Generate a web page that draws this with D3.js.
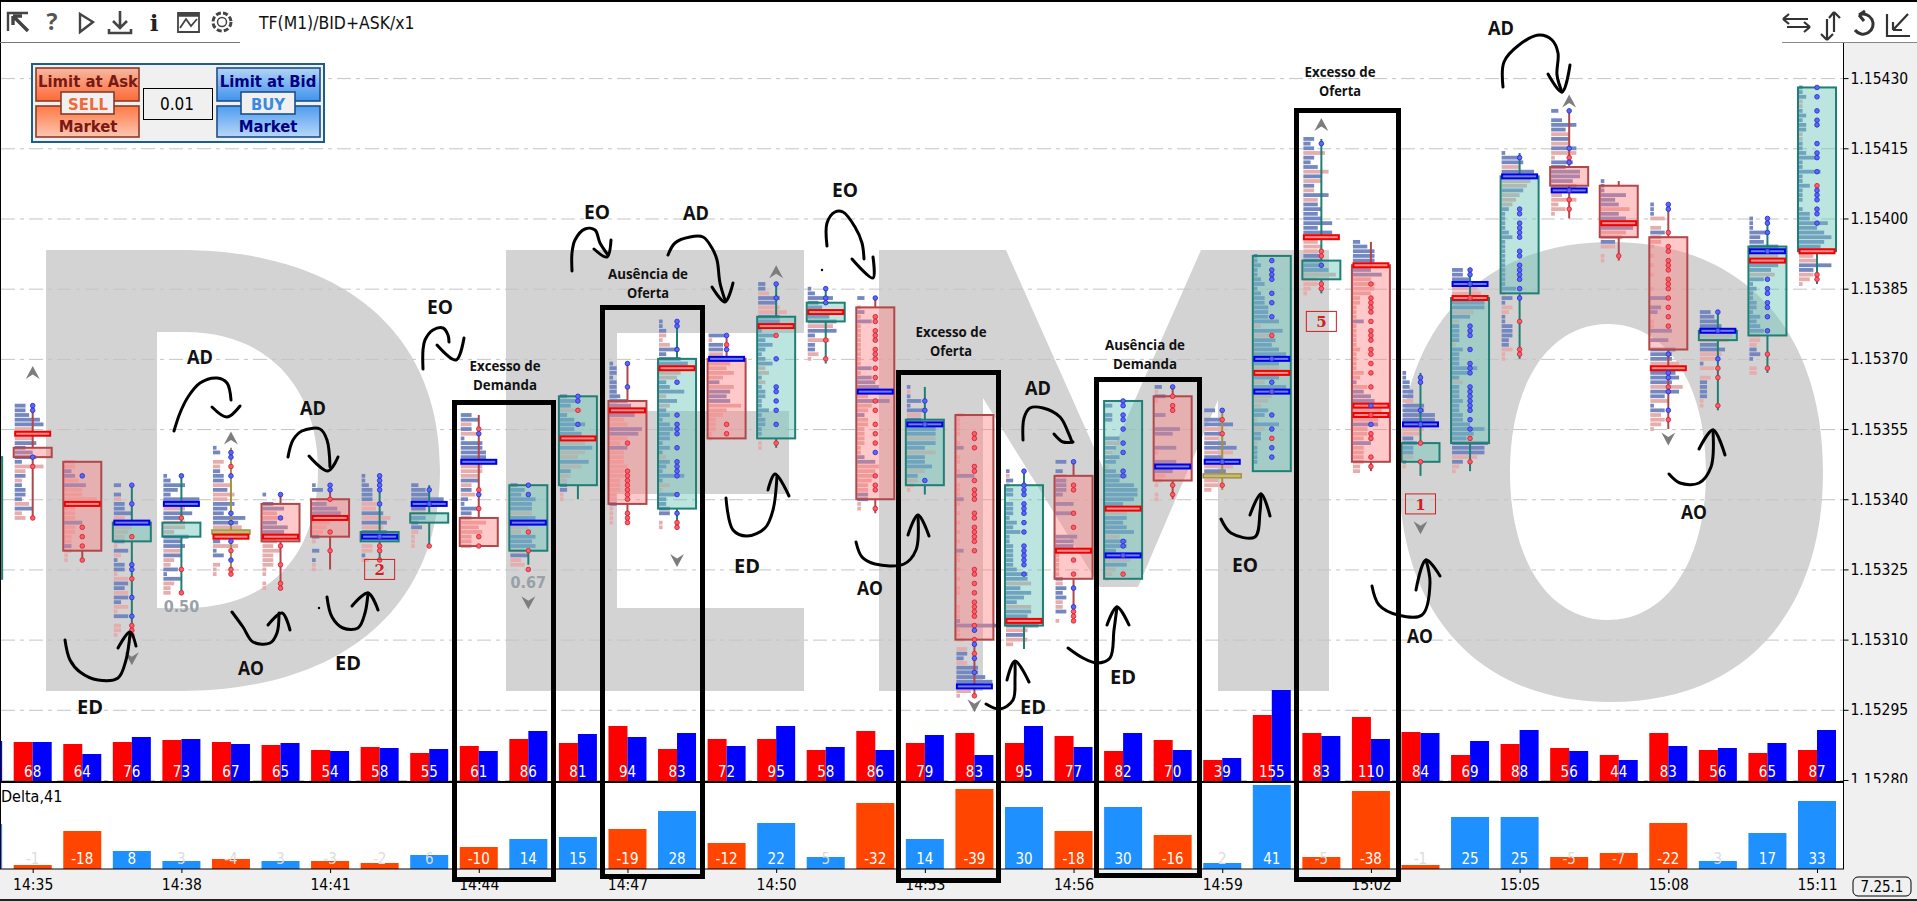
<!DOCTYPE html>
<html><head><meta charset="utf-8">
<script src="https://cdn.jsdelivr.net/npm/d3@7/dist/d3.min.js"></script>
<style>html,body{margin:0;padding:0;background:#fff;overflow:hidden}svg{display:block}</style>
</head><body><svg id="c" width="1917" height="901"></svg>
<script>
// ---------- data (prices are points above 1.15000) ----------
const times=["14:35","14:36","14:37","14:38","14:39","14:40","14:41","14:42","14:43","14:44","14:45","14:46","14:47","14:48","14:49","14:50","14:51","14:52","14:53","14:54","14:55","14:56","14:57","14:58","14:59","15:00","15:01","15:02","15:03","15:04","15:05","15:06","15:07","15:08","15:09","15:10","15:11"];
const volume=[68,64,76,73,67,65,54,58,55,61,86,81,94,83,72,95,58,86,79,83,95,77,82,70,39,155,83,110,84,69,88,56,44,83,56,65,87];
const delta=[-1,-18,8,3,-4,3,-3,-2,6,-10,14,15,-19,28,-12,22,5,-32,14,-39,30,-18,30,-16,2,41,-5,-38,-1,25,25,-5,-7,-22,3,17,33];
const askBars=[40,38,40,42,40,37,32,35,29,36,43,39,56,33,43,43,32,51,39,49,39,46,31,42,22,67,49,65,50,27,38,34,27,49,32,29,32];
const bidBars=[40,28,45,43,38,39,31,34,33,31,51,48,45,49,36,56,35,32,47,27,56,35,49,32,24,92,46,43,49,41,52,31,22,36,34,39,52];
const opens =[351,348,331,332,333,339,340,331,335,336,329,343,361,338,370,353,378,381,343,358,313,345,323,362,345,346,387,390,348,352,384,411,407,396,374,375,393];
const closes=[349,329,335,335,333,331,332,333,337,330,343,362,339,370,353,379,382,340,357,310,343,323,361,344,345,392,391,348,352,383,409,407,396,372,376,394,428];
const highs =[360,348,343,345,351,341,343,345,343,358,343,362,369,378,375,386,385,383,364,358,346,348,361,364,359,392,417,395,367,389,414,423,408,403,380,400,428];
const lows  =[336,327,311,320,324,321,325,327,330,330,326,340,335,334,353,351,369,337,341,298,308,314,323,340,342,346,384,346,345,346,370,400,391,355,359,367,386];
const redPocs =[[354],[339],[],[],[332],[332],[336],[],[],[],[],[353],[359],[368],[],[377],[380],[],[],[],[314],[329],[338],[],[],[367],[396],[390,360,358],[],[383],[],[],[399],[368],[],[391],[393]];
const bluePocs=[[],[],[335],[339],[],[],[],[332],[339],[348],[335],[],[],[],[370],[],[],[363],[356],[300],[],[],[328],[347],[348],[370,363],[],[],[356],[386],[409],[406],[],[],[376],[393],[]];
const blueDots=[[360,359,349],[345],[343,339,326,325,319,315],[345],[350,349,345,337,335,331,327],[341,336],[343,342],[345,344,343,342,339,332],[342,339],[354,341],[343,341],[362,361,356],[369,364],[378,377,372,365,358,356,355,354,351,348,347,346,345,341,337],[375,372],[386,383,370,364,363,361,359,356],[385,383,382],[383,350],[361,359,356,344],[312,309,306,303],[346,343,342,341,339,338,337,335,333,330,329,328,327,326,324],[348,321,317],[361,360,358,357,355,352,350,346,345,331,330,328],[364],[359,348],[391,389,388,387,384,382,379,365,358,355,351,349,370,363],[416,390],[360,356],[366,365,359,356],[389,388,377,376,375,372,369,368,367,364,363,362,361,360,359,357,355,386],[413,402,401,399,398,397,396,393,392,390,389,388,387,385,383],[423,415,412,406],[],[403,402,371,367,366,363,359],[380,376,370],[400,399,397,393,387,385,384,382,381,379,376],[428,426,423,421,420,416,414,413,410,406,405,404,402,401,399]];
const redDots=[[347,336],[334,332,330,327],[332,323,313,312,311],[336,325,320],[347,329,325,324],[330,326,322,321],[340,333,329],[330,329,327],[330],[355,342,338,332,330],[333,329,325],[359],[352,346,345,344,343,342,341,340,337,336,335],[335,334],[373,356,354],[375,352],[374,370],[379,378,376,375,374,372,371,370,368,366,361,359,356,354,352,345,343,342,338],[],[354,353,351,347,346,344,342,341,340,337,336,334,333,332,331,329,325,324,322,320,318,317,316,315,313,310,307,298],[],[343,342,337,334,327,324,316,315,314],[324],[362,360,359,343,341],[357,354,343],[375,363,353],[393,392,386,385],[386,383,382,381,380,378,376,375,374,372,371,369,367,364,358,354,353,349,347],[352,348],[383,353,348],[378,372,371],[413,404,402],[392],[397,394,393,391,390,389,387,386,385,383,381,379,377,364,357],[368,366,360],[371,368],[407,388,387]];
const dojiMark=[4,24];
const profiles=[
[3,3,4,7,8,-5,-9,-5,6,3,5,6,2,-8,-3,3,-2,2,3,3,2,-4,5,-2,-3],
[-3,-3,2,3,-4,6,-5,-5,-9,7,-3,-3,-3,5,-3,-3,-2,-2,2,-2,-1,-1],
[2,0,2,-2,3,3,5,-3,4,-5,-4,-3,3,-1,4,-2,1,3,3,-1,-4,4,3,-4,4,2,-4,-1,4,0,-2,-2,-1],
[1,2,6,4,2,10,-5,-6,8,5,-6,-6,-3,7,5,6,-5,5,-3,-2,4,1,5,-3,-2,-2],
[1,2,0,-3,-2,2,3,3,-5,4,-6,-4,6,4,3,9,7,-8,-9,5,2,-7,1,3,0,-2,-1,-1],
[1,0,3,6,-4,-5,4,7,6,-6,-4,-3,-5,-3,-3,-3,-1,-1,0,-1,-1],
[1,3,0,0,4,7,8,-8,-5,-4,-3,2,-1,0,2,0,1,-1,-1],
[1,1,2,3,3,3,-5,-4,6,-8,7,-6,7,6,0,-3,-3,1,-2],
[2,4,5,9,3,4,-4,4,2,3,-2,-1,-1,-1],
[3,5,-3,3,-5,1,6,6,7,7,10,-6,-6,-5,5,-3,3,-4,2,1,5,3,-3,-7,-5,-6,-3,-3,-3],
[2,4,3,7,6,6,-6,7,8,-5,-3,7,6,7,-4,5,-3,-4],
[2,5,3,-6,2,4,7,4,6,-9,-7,9,-7,-5,8,-6,3,-3,-2,2,2,-1,-1],
[1,2,2,1,2,2,2,3,5,6,-8,7,-4,-5,9,8,-5,-3,5,-4,-4,-4,-5,-4,-4,-3,-3,-3,-2,-2,2,-1,-1,-1,-1],
[1,1,2,-2,-1,-3,5,2,6,8,-9,-6,-5,2,3,7,-2,5,-3,2,3,1,3,4,3,3,1,3,1,-2,3,2,1,7,1,-3,-1,5,2,2,3,3,0,-1,-1],
[5,-1,4,4,-4,10,-6,-5,-7,-4,3,-7,6,5,6,-9,-5,-4,-2,-2,-2,-1,-1],
[2,2,-3,6,5,-6,-8,6,6,-8,1,5,2,4,2,1,2,4,-2,-3,1,-2,1,2,2,1,1,3,1,2,2,1,1,0,-1,-1],
[1,2,7,3,4,-9,6,8,-7,8,2,-6,2,2,-3,-1,0],
[2,0,-1,2,-1,4,-1,-1,-1,-1,-1,-1,-1,-1,-1,4,-1,4,5,6,10,-3,9,-4,-3,2,-3,-3,-2,-2,-2,-2,-1,-1,2,5,-6,-5,-5,-4,-3,-3,3,3,-1,-1],
[1,-1,1,4,1,5,-4,4,9,8,8,-8,8,5,-8,5,5,7,-5,3,-3,-2,-1,0],
[-2,-1,-1,-1,-1,0,-1,2,0,-1,-1,0,-1,5,0,-1,-1,-1,2,-1,0,-1,0,-1,0,-1,0,-1,0,2,-1,-1,0,-1,0,-1,0,-1,-1,0,0,-1,-1,-1,1,11,-1,-1,-2,0,-3,3,2,-3,6,6,8,10,-8,-4,-1],
[1,-1,2,-1,2,2,0,2,2,2,1,3,2,4,1,1,2,2,2,2,2,3,6,6,-7,4,7,5,3,-7,7,6,6,9,-6,5,-6,-2,0],
[3,0,2,-3,3,3,3,2,0,5,0,5,0,0,0,0,6,5,5,9,-1,-1,-1,-1,-1,2,-2,3,2,3,-2,-2,3,0,-1],
[0,2,0,2,2,0,0,0,4,-4,3,-2,4,3,-1,3,6,4,8,9,9,8,5,-9,-6,6,5,6,8,-4,6,6,3,9,-7,6,-3,-2,-1],
[2,-1,3,-1,0,0,3,0,0,7,5,0,0,6,-1,0,6,9,5,-3,-2,-1,0,-1,-1],
[3,0,5,8,-5,5,-4,6,9,-8,5,10,-8,6,-8,-4,-4,-2],
[1,1,2,1,1,2,3,1,2,3,3,4,4,4,7,-2,8,-5,6,5,7,9,7,7,-7,7,7,-3,9,-3,-5,-4,-2,4,3,-1,7,-3,2,2,-1,1,1,1,1,0,0],
[3,2,3,-6,3,2,4,-7,5,-5,3,-3,7,-4,4,5,4,5,8,4,8,-8,-4,-5,-4,5,5,5,7,-9,-4,-4,-2,-1],
[2,4,6,6,6,-9,5,8,-5,-6,-6,-5,-2,-2,-1,-1,-1,3,-1,-1,-1,-1,-1,-2,-1,-1,-1,-1,-3,-2,1,-4,3,5,6,-7,-8,-9,-7,7,-4,-4,-3,5,-3,-3,-3,-3,-2,-2],
[1,1,2,2,3,3,-3,6,6,9,9,-6,-6,-5,3,4,3,3,-3,1,-1,0,0],
[3,3,5,9,-7,-8,-9,9,9,-6,5,-2,2,2,2,2,-1,3,2,2,2,7,5,2,-3,2,2,2,3,2,2,3,3,5,9,6,4,10,9,9,-7,3,-2,-1],
[1,5,6,-5,9,10,-8,-7,6,-5,-4,-3,2,1,1,1,1,2,3,1,1,1,1,1,1,1,1,1,1,4,-1,3,1,-3,-2,1,1,3,3,3,2,2,-3,-1,-1],
[2,0,3,7,4,-5,5,-5,7,-7,-1,6,4,8,8,6,-7,9,-3,-7,-2,-4,-1,0],
[1,1,1,7,4,5,-8,5,7,-9,9,-7,-6,4,-4,0,-1,-1],
[1,1,1,-4,0,-3,4,-3,-3,-1,0,-1,0,-1,0,-1,0,0,-1,0,5,0,3,2,0,-1,-1,6,0,5,0,7,6,6,-8,-3,7,8,6,-9,8,4,-5,1,4,-3,-4,-3,-1],
[3,4,5,6,9,-9,-8,5,7,-6,-5,1,-4,0,-3,2,2,2,2,-1,-1,0],
[1,1,1,5,3,4,8,9,-8,9,8,6,-7,4,1,2,1,1,2,2,1,3,2,3,4,-3,-3,-2,2,3,1,0,-2,-2],
[1,1,2,-1,-1,1,2,1,2,2,-1,-1,1,1,2,5,1,1,6,1,1,3,1,1,1,0,1,3,3,8,5,7,9,7,6,-9,-4,-5,9,4,-4,-3,-1]
];
const priceTicks=[430,415,400,385,370,355,340,325,310,295,280];
const timeTickIdx=[0,3,6,9,12,15,18,21,24,27,30,33,36];
// bar that is only partly on screen at the left edge
const leftPartial={open:323,close:349,ask:30,bid:41,delta:22};
const boxedLabels=["2","5","1"], boxedAt=[7,26,28], boxedPrice=[325,378,339];
const upArrowBars=[0,4,15,26,31], upArrowPrice=[367,353,388.5,420,425];
const downArrowBars=[2,10,13,19,28,33], downArrowPrice=[306,318,327,296,334,353];
const ratios=["0.50","0.67"], ratioBars=[3,10], ratioPrice=[316,321];

// ---------- scales ----------
const svg=d3.select("#c");
const PLOT={l:1,r:1843,t:43,b:782};
const x=d3.scaleLinear().domain([0,36]).range([32.7,1817]);
const y=d3.scaleLinear().domain([430,280]).range([78.1,780]);
const yVol=d3.scaleLinear().domain([0,100]).range([782,682]);
const yDelta=d3.scaleLinear().domain([0,41]).range([868,786]);
const profW=d3.scaleLinear().domain([0,10]).range([0,36]);
const BARW=19;
const cond="'DejaVu Sans Condensed','DejaVu Sans',sans-serif";
const hand="'Open Sans',sans-serif";

// ---------- defs ----------
const defs=svg.append("defs");
function grad(id,stops){const g=defs.append("linearGradient").attr("id",id).attr("x1",0).attr("x2",0).attr("y1",0).attr("y2",1);
 stops.forEach((c,i)=>g.append("stop").attr("offset",i/(stops.length-1)).attr("stop-color",c));}
grad("sU",["#f6b8a2","#ff6a36"]);grad("sD",["#ff7a45","#fcc6b2"]);grad("bU",["#b3d3f5","#3f93ee"]);grad("bD",["#4f9df0","#b9d7f7"]);
defs.append("clipPath").attr("id","plotClip").append("rect").attr("x",0).attr("y",43).attr("width",1917).attr("height",739);

// ---------- background + DEMO watermark ----------
svg.append("rect").attr("width",1917).attr("height",901).attr("fill","#fff");
const wm=svg.append("g").attr("fill","#d3d3d3").attr("fill-rule","evenodd");
wm.append("path").attr("d","M46,250L180,250C340,250,440,330,440,470C440,610,340,691,180,691L46,691Z M157,332L185,332C270,332,318,390,318,470C318,555,270,608,185,608L157,608Z");
wm.append("path").attr("d","M506,250H804V333H617V411H789V494H617V608H804V691H506Z");
wm.append("path").attr("d","M879,250L1006,250L1104,470L1201,250L1329,250L1329,691L1218,691L1218,400L1138,587L1100,587L983,398L983,691L879,691Z");
function ell(cx,cy,rx,ry,k){return `M${cx-rx},${cy}C${cx-rx},${cy-k*ry},${cx-k*rx},${cy-ry},${cx},${cy-ry}C${cx+k*rx},${cy-ry},${cx+rx},${cy-k*ry},${cx+rx},${cy}C${cx+rx},${cy+k*ry},${cx+k*rx},${cy+ry},${cx},${cy+ry}C${cx-k*rx},${cy+ry},${cx-rx},${cy+k*ry},${cx-rx},${cy}Z`;}
wm.append("path").attr("d",ell(1611,472,212,230,.62)+" "+ell(1608,472,98,148,.6));

// ---------- grid ----------
svg.append("g").attr("clip-path","url(#plotClip)").selectAll("line").data(priceTicks).join("line")
 .attr("x1",PLOT.l).attr("x2",PLOT.r).attr("y1",d=>y(d)+.5).attr("y2",d=>y(d)+.5)
 .attr("stroke","#c4c4c4").attr("stroke-dasharray","14 5 4 5");

// ---------- candles ----------
const cg=svg.append("g").attr("clip-path","url(#plotClip)");
const UP="#1f7f74",DN="#b0474a",DOJI="#a09440";
cg.append("rect").attr("x",x(-1)-19).attr("width",38).attr("y",y(leftPartial.close)).attr("height",y(leftPartial.open)-y(leftPartial.close))
 .attr("fill","rgba(109,197,187,.45)").attr("stroke",UP).attr("stroke-width",2);
times.forEach((t,i)=>{
 const g=cg.append("g"),cx=x(i),o=opens[i],c=closes[i];
 const doji=dojiMark.includes(i),up=c>o,col=doji?DOJI:up?UP:DN;
 g.selectAll(".p").data(profiles[i]).join("rect").attr("class","p")
  .attr("x",cx-18).attr("y",(d,k)=>y(highs[i]-k)-1.9).attr("height",3.8)
  .attr("width",d=>profW(Math.abs(d))).attr("fill",d=>d>0?"#7487bf":"#e6adad");
 const bodyHi=Math.max(o,c),bodyLo=Math.min(o,c);
 g.append("line").attr("x1",cx).attr("x2",cx).attr("y1",y(highs[i])).attr("y2",y(bodyHi)).attr("stroke",col).attr("stroke-width",2);
 g.append("line").attr("x1",cx).attr("x2",cx).attr("y1",y(bodyLo)).attr("y2",y(lows[i])).attr("stroke",col).attr("stroke-width",2);
 if(doji){
  g.append("rect").attr("x",cx-19).attr("width",38).attr("y",y(o)-2).attr("height",4).attr("fill","#c9b878").attr("stroke",DOJI).attr("stroke-width",1.5);
 } else {
  const top=y(bodyHi),bot=y(bodyLo);
  g.append("rect").attr("x",cx-19).attr("width",38).attr("y",top).attr("height",bot-top)
   .attr("fill",up?"rgba(109,197,187,.45)":"rgba(255,130,130,.43)").attr("stroke",col).attr("stroke-width",2);
 }
 const poc=(arr,stroke,fill)=>g.selectAll(null).data(arr).join("rect").attr("x",cx-17.5).attr("width",35).attr("y",d=>y(d)-2).attr("height",4)
   .attr("fill",fill).attr("stroke",stroke).attr("stroke-width",2);
 poc(redPocs[i],"#f00000","#ff8f8f");
 poc(bluePocs[i],"#0000e6","#6f80ee");
 const dots=(arr,fill,stroke)=>g.selectAll(null).data(arr).join("circle").attr("cx",cx).attr("cy",d=>y(d)).attr("r",2.3)
   .attr("fill",fill).attr("stroke",stroke).attr("stroke-width",.9);
 dots(redDots[i],"#f5606c","#e02030");
 dots(blueDots[i],"#5d68f2","#2a30d8");
});
const arrow=(bar,price,dir)=>svg.append("path").attr("transform",`translate(${x(bar)},${y(price)}) scale(1,${dir})`)
  .attr("d","M0,-7L7,6L0,1.5L-7,6Z").attr("fill","#7d7d7d");
upArrowBars.forEach((b,k)=>arrow(b,upArrowPrice[k],1));
downArrowBars.forEach((b,k)=>arrow(b,downArrowPrice[k],-1));
svg.selectAll(".ratio").data(ratios).join("text").attr("class","ratio").attr("x",(d,k)=>x(ratioBars[k])).attr("y",(d,k)=>y(ratioPrice[k]))
 .attr("text-anchor","middle").attr("font-family",cond).attr("font-weight","bold").attr("font-size",16).attr("fill","#98a0a8").text(d=>d);
boxedLabels.forEach((s,k)=>{
 const i=boxedAt[k],cy=y(boxedPrice[k]);
 svg.append("rect").attr("x",x(i)-15).attr("y",cy-10).attr("width",30).attr("height",20).attr("fill","none").attr("stroke","#d02020");
 svg.append("text").attr("x",x(i)).attr("y",cy+6).attr("text-anchor","middle").attr("font-family","'DejaVu Serif',serif").attr("font-weight","bold").attr("font-size",15).attr("fill","#d02020").text(s);
});

// ---------- right axis / panels ----------
svg.append("rect").attr("x",1844).attr("y",43).attr("width",73).attr("height",858).attr("fill","#f0f0f0");
svg.append("rect").attr("x",0).attr("y",869).attr("width",1917).attr("height",32).attr("fill","#f0f0f0");
const ax=svg.append("g").attr("transform","translate(1843.5,0)")
 .call(d3.axisRight(y).tickValues(priceTicks).tickSize(5).tickPadding(2).tickFormat(d=>(1.15+d/1e5).toFixed(5)));
ax.select(".domain").remove();
ax.selectAll("text").attr("font-family",cond).attr("font-size",15.5).attr("fill","#000");
ax.selectAll("line").attr("stroke","#000");
svg.append("rect").attr("x",1844).attr("y",783).attr("width",73).attr("height",86).attr("fill","#f0f0f0");

// ---------- volume ----------
const vg=svg.append("g");
vg.append("rect").attr("x",x(-1)).attr("width",19).attr("y",yVol(leftPartial.bid)).attr("height",782-yVol(leftPartial.bid)).attr("fill","#0000ff");
vg.selectAll(".a").data(askBars).join("rect").attr("x",(d,i)=>x(i)-BARW).attr("width",BARW).attr("y",d=>yVol(d)).attr("height",d=>782-yVol(d)).attr("fill","#ff0000");
vg.selectAll(".b").data(bidBars).join("rect").attr("class","b").attr("x",(d,i)=>x(i)).attr("width",BARW).attr("y",d=>yVol(d)).attr("height",d=>782-yVol(d)).attr("fill","#0000ff");
vg.selectAll(".vl").data(volume).join("text").attr("class","vl").attr("x",(d,i)=>x(i)).attr("y",777).attr("text-anchor","middle")
 .attr("font-family",cond).attr("font-size",15).attr("fill","#fff").text(d=>d);

// ---------- delta ----------
const dg=svg.append("g");
const dCol=d=>d>=0?"#1e90ff":"#ff4500";
dg.append("rect").attr("x",x(-1)).attr("width",19).attr("y",yDelta(leftPartial.delta)).attr("height",868.5-yDelta(leftPartial.delta)).attr("fill","#1e90ff");
dg.selectAll(".d").data(delta).join("rect").attr("class","d").attr("x",(d,i)=>x(i)-BARW).attr("width",2*BARW)
 .attr("y",d=>yDelta(Math.abs(d))-1).attr("height",d=>869-yDelta(Math.abs(d))+1).attr("fill",dCol);
dg.selectAll(".dl").data(delta).join("text").attr("class","dl").attr("x",(d,i)=>x(i)).attr("y",864).attr("text-anchor","middle")
 .attr("font-family",cond).attr("font-size",15).attr("fill",d=>Math.abs(d)<=7?"#dcdcdc":"#fff").text(d=>d);
svg.append("text").attr("x",1).attr("y",802).attr("font-family",cond).attr("font-size",16).text("Delta,41");

// frames
const fr=svg.append("g");
fr.append("line").attr("x1",0).attr("x2",1843).attr("y1",782).attr("y2",782).attr("stroke","#000").attr("stroke-width",2);
fr.append("line").attr("x1",0).attr("x2",1844).attr("y1",869).attr("y2",869).attr("stroke","#000");
fr.append("line").attr("x1",1843.5).attr("x2",1843.5).attr("y1",43).attr("y2",869).attr("stroke","#000");
fr.append("line").attr("x1",.5).attr("x2",.5).attr("y1",0).attr("y2",869).attr("stroke","#000");
fr.append("line").attr("x1",0).attr("x2",1917).attr("y1",1).attr("y2",1).attr("stroke","#000").attr("stroke-width",2);
fr.append("line").attr("x1",0).attr("x2",1917).attr("y1",900).attr("y2",900).attr("stroke","#222").attr("stroke-width",2);
fr.append("line").attr("x1",0).attr("x2",240).attr("y1",42.5).attr("y2",42.5).attr("stroke","#777");
fr.append("line").attr("x1",1782).attr("x2",1917).attr("y1",42.5).attr("y2",42.5).attr("stroke","#888");

// time axis
const tx=svg.append("g").attr("transform","translate(0,869)")
 .call(d3.axisBottom(x).tickValues(timeTickIdx).tickSize(4).tickPadding(6).tickFormat(i=>times[i]));
tx.select(".domain").remove();
tx.selectAll("text").attr("font-family",cond).attr("font-size",15.5).attr("fill","#000");
svg.append("rect").attr("x",1853).attr("y",877).attr("width",58).attr("height",19).attr("rx",5).attr("fill","none").attr("stroke","#000");
svg.append("text").attr("x",1882).attr("y",892).attr("text-anchor","middle").attr("font-family",cond).attr("font-size",15).text("7.25.1");

// ---------- toolbar ----------
const tb=svg.append("g").attr("fill","none").attr("stroke","#444").attr("stroke-width",2.4);
tb.append("path").attr("d","M8,31V13H28");
tb.append("path").attr("d","M13,16L28,31M13,16H22M13,16V25").attr("stroke-width",3.4);
tb.append("path").attr("d","M80,14L93,22L80,32Z");
tb.append("path").attr("d","M120,11V27M113,21L120,28L127,21M109,29V33H131V29").attr("stroke-width",2.6);
tb.append("path").attr("d","M178,13H199V32H178Z M180,28L186,19L191,26L197,19").attr("stroke-width",1.8);
tb.append("path").attr("d","M178,15H199").attr("stroke-width",3.5);
tb.append("circle").attr("cx",222).attr("cy",22).attr("r",9).attr("stroke-dasharray","5 2.2").attr("stroke-width",3);
tb.append("circle").attr("cx",222).attr("cy",22).attr("r",4.5).attr("stroke-width",1.5);
svg.append("text").attr("x",52).attr("y",30).attr("text-anchor","middle").attr("font-family",hand).attr("font-weight",700).attr("font-size",23).attr("fill","#555").text("?");
svg.append("text").attr("x",154).attr("y",31).attr("text-anchor","middle").attr("font-family","'DejaVu Serif',serif").attr("font-weight",700).attr("font-size",23).attr("fill","#222").text("i");
svg.append("text").attr("x",259).attr("y",29).attr("font-family",cond).attr("font-size",17.4).attr("fill","#111").text("TF(M1)/BID+ASK/x1");
const rt=svg.append("g").attr("fill","none").attr("stroke","#333").attr("stroke-width",2.2);
rt.append("path").attr("d","M1783,19H1808M1783,19L1789,14M1783,19L1789,24M1810,27H1787M1810,27L1804,22M1810,27L1804,32");
rt.append("path").attr("d","M1834,12V32M1834,12L1829,18M1834,12L1840,18M1827,19V40M1827,40L1821,34M1827,40L1833,34");
rt.append("path").attr("d","M1859,15A10,10,0,1,1,1855,30M1859,15L1865,11M1859,15L1864,21").attr("stroke-width",3);
rt.append("path").attr("d","M1887,14V36H1910M1908,14L1893,30M1893,30V22M1893,30H1902");

// ---------- order panel ----------
const op=svg.append("g");
op.append("rect").attr("x",32).attr("y",64).attr("width",292).attr("height",78).attr("fill","#f0f0f0").attr("stroke","#1c5e8a").attr("stroke-width",2);
const btn=(xx,yy,w,h,f,s)=>op.append("rect").attr("x",xx).attr("y",yy).attr("width",w).attr("height",h).attr("fill",f).attr("stroke",s).attr("stroke-width",1.6);
btn(36,68,103,33,"url(#sU)","#8a3b2a");btn(36,106,103,31,"url(#sD)","#8a3b2a");
btn(217,68,103,33,"url(#bU)","#1c4f8a");btn(217,106,103,31,"url(#bD)","#1c4f8a");
btn(61,92,53,22,"#f0f0f0","#8a3b2a");btn(241,92,54,22,"#f0f0f0","#1c4f8a");
op.append("rect").attr("x",143.5).attr("y",88.5).attr("width",69).attr("height",31).attr("fill","#f0f0f0").attr("stroke","#000");
const lab=(t,xx,yy,f,w=true,s=16.5)=>op.append("text").attr("x",xx).attr("y",yy).attr("text-anchor","middle").attr("font-family",cond).attr("font-size",s).attr("font-weight",w?"bold":"normal").attr("fill",f).text(t);
lab("Limit at Ask",88,87,"#7a1812");lab("Market",88,132,"#7a1812");
lab("Limit at Bid",268,87,"#000080");lab("Market",268,132,"#000080");
lab("SELL",88,110,"#ee6a3a");lab("BUY",268,110,"#3a8ae0");lab("0.01",177,110,"#000",false,17);

// ---------- hand annotations ----------
const an=svg.append("g");
const strokes=[
 [[65,640],[70,660],[80,672],[98,680],[118,678],[126,660],[130,634]],[[118,648],[130,632],[136,646]],
 [[174,431],[180,413],[188,397],[200,383],[217,378],[227,383],[231,400]],[[212,407],[227,417],[240,406]],
 [[288,457],[293,440],[302,431],[320,429],[327,440],[330,467]],[[309,456],[328,471],[338,457]],
 [[232,612],[243,627],[253,642],[270,643],[277,633],[279,613]],[[268,625],[282,613],[290,630]],
 [[327,597],[332,617],[343,628],[358,628],[365,613],[368,593]],[[352,606],[368,593],[378,610]],
 [[423,369],[423,350],[425,340],[433,330],[443,328],[448,335],[449,342]],[[437,345],[456,360],[464,338]],
 [[572,271],[572,253],[575,240],[585,229],[595,230],[600,243],[608,255]],[[594,249],[607,257],[611,240]],
 [[668,255],[675,243],[690,237],[703,237],[712,248],[717,260],[720,283],[725,300]],[[712,287],[725,302],[733,283]],
 [[827,246],[827,223],[835,212],[843,212],[855,227],[862,243],[864,259]],[[852,259],[873,278],[873,257]],
 [[726,498],[733,530],[747,536],[765,528],[773,510],[777,476]],[[768,490],[775,474],[789,496]],
 [[856,542],[862,557],[875,564],[904,564],[916,550],[918,517]],[[908,535],[918,515],[929,536]],
 [[1068,648],[1083,658],[1097,663],[1110,658],[1114,630],[1117,607]],[[1107,625],[1117,607],[1129,625]],
 [[1221,519],[1231,533],[1255,537],[1260,512],[1261,494]],[[1250,515],[1261,494],[1270,516]],
 [[1372,586],[1379,605],[1398,615],[1422,615],[1430,583],[1426,560]],[[1416,590],[1426,560],[1440,576]],
 [[986,704],[1000,709],[1013,700],[1015,678],[1015,662]],[[1007,680],[1015,661],[1029,682]],
 [[1669,474],[1680,483],[1699,483],[1711,467],[1713,430]],[[1699,449],[1713,430],[1725,455]],
 [[1503,87],[1504,62],[1519,45],[1539,35],[1552,40],[1558,53],[1557,75],[1562,92]],[[1548,74],[1562,92],[1570,65]],
 [[1023,440],[1024,418],[1030,408],[1043,408],[1060,417],[1068,432],[1072,442]],[[1054,434],[1063,442],[1073,442]]
];
const ln=d3.line().curve(d3.curveCatmullRom.alpha(.5));
an.selectAll("path").data(strokes).join("path").attr("d",ln).attr("fill","none").attr("stroke","#000").attr("stroke-width",3).attr("stroke-linecap","round").attr("stroke-linejoin","round");
an.selectAll("circle").data([[319,608],[822,270]]).join("circle").attr("cx",d=>d[0]).attr("cy",d=>d[1]).attr("r",1.2);
const boxes=[[454.5,402.5,99,477],[602.5,307.5,100,569],[898.5,372.5,100,508],[1096.5,379.5,103,496],[1296.5,110.5,102,769]];
an.selectAll("rect").data(boxes).join("rect").attr("x",d=>d[0]).attr("y",d=>d[1]).attr("width",d=>d[2]).attr("height",d=>d[3]).attr("fill","none").attr("stroke","#000").attr("stroke-width",5);
const bigLabels=[["ED",90,714],["AD",200,364],["AD",313,415],["AO",251,675],["ED",348,670],["EO",440,314],["EO",597,219],["AD",696,220],["ED",747,573],["EO",845,197],["AO",870,595],["AD",1038,395],["ED",1033,714],["ED",1123,684],["EO",1245,572],["AO",1420,643],["AD",1501,35],["AO",1694,519]];
an.selectAll(".big").data(bigLabels).join("text").attr("class","big").attr("x",d=>d[1]).attr("y",d=>d[2]).attr("text-anchor","middle")
 .attr("font-family",hand).attr("font-weight",700).attr("font-size",20).attr("fill","#111").attr("textLength",26).attr("lengthAdjust","spacingAndGlyphs").text(d=>d[0]);
const boxTitles=[["Excesso de",505,371],["Demanda",505,390],["Ausência de",648,279],["Oferta",648,298],["Excesso de",951,337],["Oferta",951,356],["Ausência de",1145,350],["Demanda",1145,369],["Excesso de",1340,77],["Oferta",1340,96]];
an.selectAll(".tt").data(boxTitles).join("text").attr("class","tt").attr("x",d=>d[1]).attr("y",d=>d[2]).attr("text-anchor","middle")
 .attr("font-family",hand).attr("font-weight",700).attr("font-size",13.5).attr("fill","#111").attr("textLength",d=>d[0]==="Oferta"?42:d[0]==="Demanda"?64:d[0]==="Excesso de"?71:80).attr("lengthAdjust","spacingAndGlyphs").text(d=>d[0]);
</script></body></html>
